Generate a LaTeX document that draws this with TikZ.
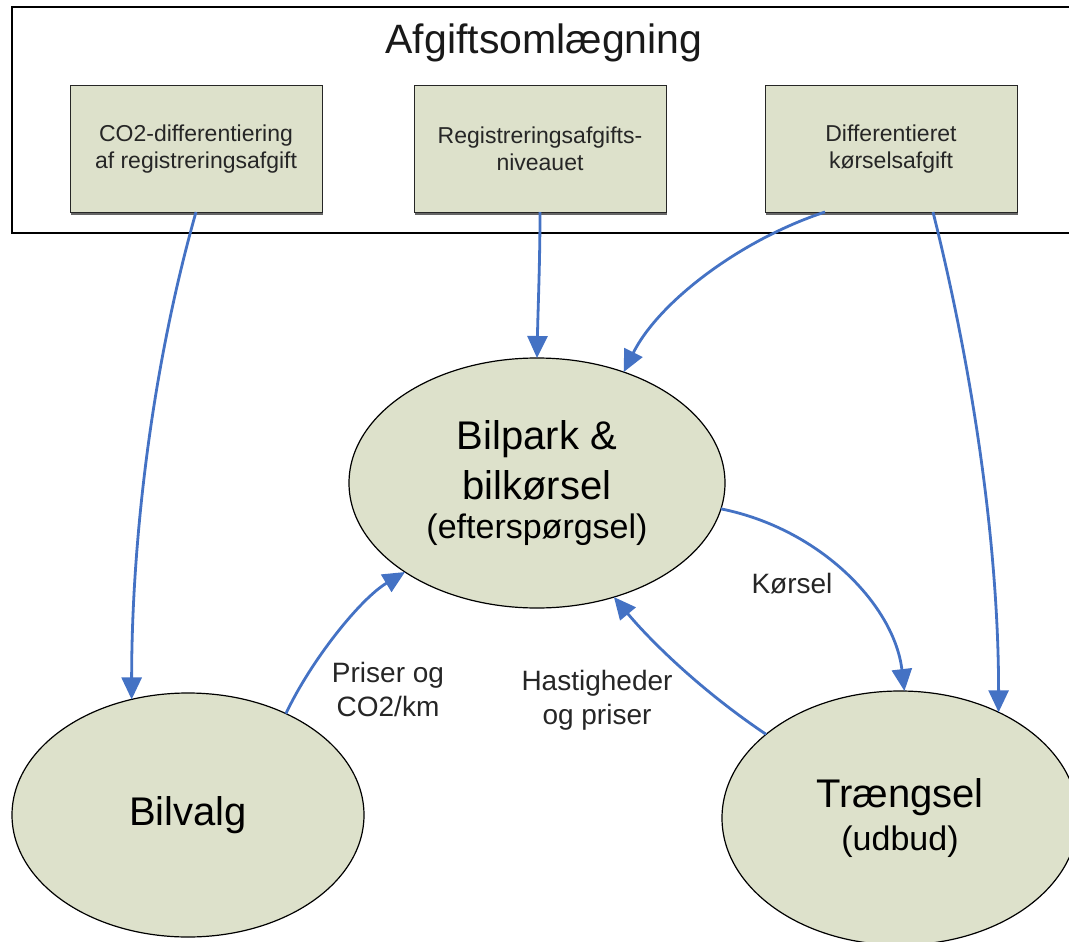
\documentclass[tikz,border=0pt]{standalone}
\usepackage{fontspec}
\setmainfont{Liberation Sans}
\usetikzlibrary{arrows.meta,shapes.geometric,shadows}
\definecolor{boxfill}{RGB}{221,225,203}
\definecolor{arrowblue}{RGB}{68,114,196}
\begin{document}
\begin{tikzpicture}[x=1pt,y=-1pt,
  every node/.style={inner sep=0pt, outer sep=0pt},
  framebox/.style={draw=black, line width=1.2pt, fill=white, minimum width=1068pt, minimum height=226pt},
  taxbox/.style={draw=black!85, line width=1pt, fill=boxfill, minimum width=252pt, minimum height=126pt,
    align=center, font=\fontsize{23}{27}\selectfont, text=black!85,
    drop shadow={shadow xshift=1pt, shadow yshift=-3pt, fill=black!60, opacity=1}},
  oval/.style={ellipse, draw=black, line width=1.2pt, fill=boxfill, align=center,
    font=\fontsize{40}{50}\selectfont},
  lbl/.style={align=center, font=\fontsize{28}{34}\selectfont, text=black!85},
  conn/.style={draw=arrowblue, line width=2.8pt, -{Triangle[length=22pt,width=20pt]}}
]
\useasboundingbox (0,0) rectangle (1069,942);
\clip (0,0) rectangle (1069,942);

\node[framebox] (frame) at (546,120) {};
\node[font=\fontsize{41}{48}\selectfont, text=black!90] (title) at (544,43) {Afgiftsomlægning};

\node[taxbox] (b1) at (196,149) {CO2-differentiering\\af registreringsafgift};
\node[taxbox] (b2) at (540,149) {Registreringsafgifts-\\niveauet};
\node[taxbox] (b3) at (891,149) {Differentieret\\kørselsafgift};

\node[oval, minimum width=376pt, minimum height=250pt] (bilpark) at (537,483)
  {Bilpark \&\\bilkørsel\\[-11pt]{\fontsize{34}{39}\selectfont (efterspørgsel)}};
\node[oval, minimum width=352pt, minimum height=244pt] (bilvalg) at (188,815) {Bilvalg};
\node[oval, minimum width=356pt, minimum height=254pt] (traengsel) at (900,818)
  {Trængsel\\[-7pt]{\fontsize{34}{39}\selectfont (udbud)}};

\node[lbl] (l1) at (792,584) {Kørsel};
\node[lbl] (l2) at (597,700) {Hastigheder\\og priser};
\node[lbl] (l3) at (388,689) {Priser og\\CO2/km};

\draw[conn] (b1.south) .. controls +(-48,170) and +(0,-143) .. (bilvalg.116);
\draw[conn] (b2.south) .. controls +(0,50) and +(1,-50) .. (bilpark.north);
\draw[conn] ([xshift=-66pt]b3.south) .. controls +(-85,28) and +(35,-70) .. (bilpark.52);
\draw[conn] ([xshift=42pt]b3.south) .. controls +(42,168) and +(0,-160) .. (traengsel.47);
\draw[conn] (bilpark.-8) .. controls +(100,20) and +(-10,-85) .. (traengsel.88);
\draw[conn] (traengsel.148) .. controls +(-67,-45) and +(35,42) .. (bilpark.-56);
\draw[conn] (bilvalg.46) .. controls +(25,-53) and +(-45,27) .. (bilpark.-146);
\end{tikzpicture}
\end{document}
